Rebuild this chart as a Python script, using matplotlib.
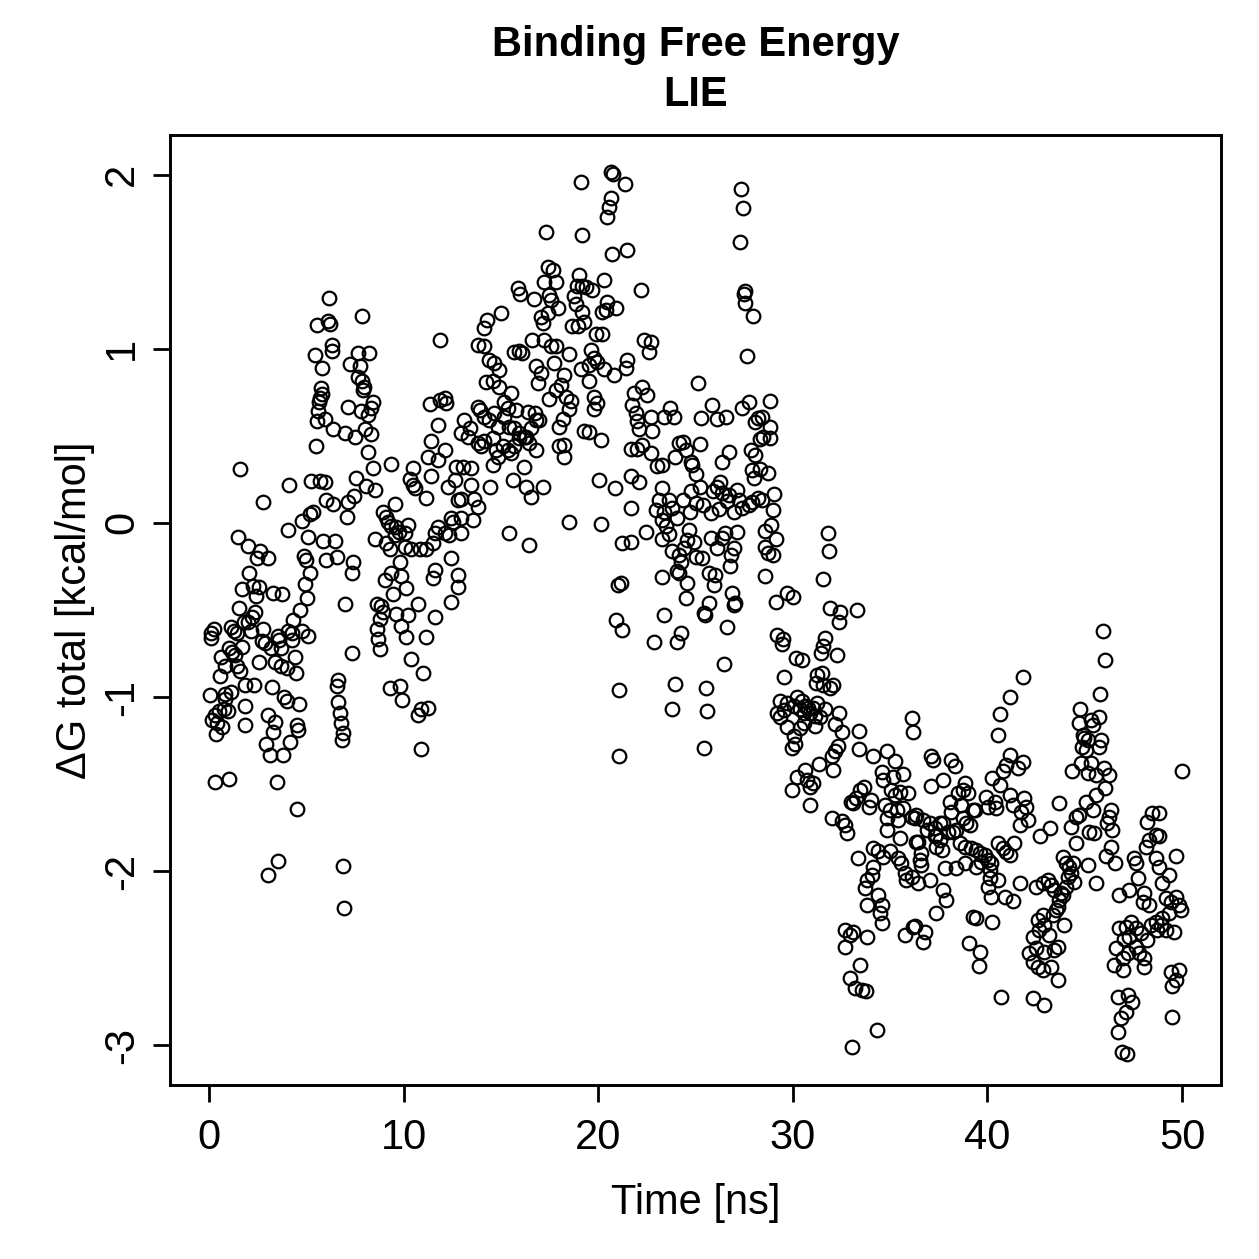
import numpy as np
import matplotlib
matplotlib.use("Agg")
import matplotlib.pyplot as plt

plt.rcParams['font.family'] = ['Liberation Sans', 'DejaVu Sans']

# (time [ns], dG [kcal/mol]) pairs, by time window
seg_0_6 = [(1.60,0.31),(4.11,0.22),(5.23,0.24),(5.69,0.24),(5.48,0.44),(2.77,0.12),(4.76,0.01),(5.19,0.05),(5.36,0.06),(4.08,-0.04),(5.10,-0.08),(1.49,-0.08),(2.03,-0.13),(2.63,-0.16),(2.46,-0.20),(3.02,-0.20),(4.90,-0.19),(4.98,-0.21),(2.08,-0.29),(5.19,-0.29),(4.93,-0.35),(1.69,-0.38),(2.29,-0.36),(2.55,-0.37),(2.42,-0.42),(3.31,-0.40),(3.78,-0.41),(5.02,-0.43),(1.52,-0.49),(4.68,-0.50),(2.37,-0.51),(2.20,-0.54),(2.03,-0.57),(1.78,-0.57),(4.34,-0.56),(0.24,-0.61),(0.12,-0.63),(0.12,-0.66),(1.14,-0.60),(1.27,-0.62),(1.43,-0.63),(2.14,-0.62),(2.80,-0.61),(3.57,-0.65),(4.08,-0.62),(4.25,-0.63),(4.76,-0.62),(5.11,-0.65),(2.72,-0.68),(2.88,-0.69),(3.19,-0.72),(3.60,-0.67),(3.70,-0.72),(4.25,-0.67),(1.01,-0.72),(1.18,-0.74),(1.35,-0.76),(1.69,-0.71),(0.63,-0.77),(2.55,-0.80),(3.40,-0.80),(3.70,-0.82),(3.99,-0.83),(4.42,-0.77),(4.46,-0.86),(0.84,-0.82),(1.43,-0.82),(1.60,-0.85),(0.58,-0.88),(1.86,-0.93),(2.34,-0.93),(3.23,-0.94),(0.07,-0.99),(0.84,-0.98),(1.14,-0.97),(0.84,-1.01),(1.86,-1.05),(3.87,-1.00),(3.99,-1.02),(4.63,-1.04),(0.32,-1.10),(0.50,-1.08),(0.75,-1.07),(0.97,-1.08),(0.15,-1.13),(0.41,-1.15),(0.67,-1.17),(0.36,-1.21),(1.83,-1.16),(3.06,-1.10),(3.40,-1.14),(3.31,-1.20),(4.51,-1.16),(4.60,-1.19),(4.17,-1.26),(2.92,-1.27),(3.14,-1.33),(3.83,-1.33),(0.29,-1.49),(1.04,-1.47),(3.48,-1.49),(4.51,-1.64),(3.53,-1.94),(3.06,-2.02)]

seg_5_12 = [(6.17,1.29),(7.87,1.19),(5.53,1.137),(6.13,1.161),(6.22,1.142),(6.34,1.02),(6.30,0.985),(5.45,0.962),(11.85,1.048),(7.67,0.973),(8.21,0.978),(7.24,0.915),(7.75,0.903),(5.79,0.891),(7.67,0.837),(7.84,0.814),(7.98,0.781),(7.93,0.762),(5.75,0.774),(5.79,0.739),(5.70,0.716),(5.65,0.692),(5.62,0.645),(5.53,0.587),(8.44,0.692),(8.35,0.657),(8.18,0.622),(7.80,0.645),(7.16,0.664),(11.34,0.68),(11.85,0.704),(5.96,0.598),(6.39,0.54),(6.98,0.516),(7.50,0.493),(8.01,0.54),(8.35,0.509),(11.77,0.563),(11.42,0.47),(8.15,0.406),(8.44,0.317),(9.38,0.336),(11.25,0.376),(11.77,0.364),(10.49,0.318),(10.31,0.252),(10.49,0.219),(10.57,0.20),(5.96,0.235),(11.42,0.27),(7.58,0.259),(8.09,0.212),(8.52,0.188),(11.17,0.142),(6.04,0.13),(6.39,0.111),(7.16,0.118),(7.46,0.153),(7.07,0.036),(9.55,0.111),(8.95,0.064),(9.12,0.036),(9.21,0.008),(9.38,-0.015),(9.63,-0.022),(9.75,-0.053),(9.55,-0.069),(10.23,-0.011),(10.06,-0.058),(11.77,-0.022),(11.59,-0.058),(5.88,-0.104),(6.47,-0.104),(6.04,-0.21),(6.56,-0.193),(8.52,-0.093),(9.12,-0.116),(9.29,-0.151),(10.06,-0.14),(10.40,-0.151),(10.82,-0.147),(11.17,-0.151),(11.51,-0.116),(7.41,-0.222),(7.33,-0.287),(9.80,-0.222),(9.38,-0.287),(9.04,-0.327),(9.89,-0.304),(11.59,-0.269),(11.51,-0.315),(9.46,-0.409),(10.14,-0.374),(6.98,-0.468),(8.61,-0.468),(8.86,-0.479),(8.95,-0.514),(8.78,-0.55),(8.61,-0.608),(8.69,-0.667),(8.78,-0.725),(9.63,-0.521),(10.23,-0.526),(9.89,-0.592),(10.14,-0.655),(10.72,-0.468),(11.59,-0.538),(11.17,-0.655),(7.36,-0.749),(10.40,-0.779),(10.98,-0.859),(6.64,-0.901),(6.56,-0.936),(6.64,-1.03),(6.73,-1.089),(6.78,-1.147),(6.90,-1.206),(6.85,-1.248),(9.29,-0.948),(9.80,-0.936),(9.92,-1.014),(10.72,-1.10),(10.89,-1.07),(11.25,-1.061),(10.88,-1.30),(6.90,-1.972),(6.94,-2.209)]

seg_12_18 = [(17.32,1.67),(17.42,1.47),(17.67,1.45),(17.23,1.385),(17.83,1.385),(15.90,1.347),(16.0,1.315),(16.72,1.284),(17.48,1.308),(17.57,1.279),(17.91,1.233),(15.01,1.207),(14.29,1.165),(14.12,1.117),(17.06,1.184),(17.40,1.203),(17.14,1.146),(13.85,1.022),(14.12,1.016),(16.58,1.05),(17.23,1.05),(17.57,1.016),(17.83,1.016),(15.69,0.984),(15.95,0.989),(16.07,0.974),(14.41,0.936),(14.67,0.916),(14.92,0.878),(16.80,0.901),(17.06,0.859),(17.74,0.916),(14.24,0.81),(14.58,0.816),(14.92,0.782),(16.89,0.801),(17.83,0.763),(17.48,0.71),(15.52,0.744),(12.11,0.716),(12.19,0.687),(15.18,0.696),(15.35,0.658),(13.82,0.667),(13.95,0.648),(14.67,0.633),(15.15,0.61),(15.78,0.648),(16.38,0.639),(16.75,0.633),(16.97,0.591),(13.13,0.591),(13.39,0.543),(12.97,0.514),(14.15,0.61),(14.41,0.591),(14.84,0.553),(15.44,0.553),(15.69,0.543),(15.95,0.514),(16.29,0.495),(16.55,0.543),(16.80,0.591),(18.0,0.553),(12.11,0.42),(13.30,0.496),(13.82,0.458),(13.99,0.439),(14.15,0.468),(14.58,0.487),(14.75,0.419),(14.84,0.381),(15.09,0.439),(15.35,0.419),(15.52,0.40),(15.69,0.439),(15.95,0.487),(16.20,0.496),(16.46,0.458),(16.80,0.419),(18.0,0.439),(12.71,0.32),(13.05,0.32),(13.47,0.313),(14.58,0.33),(15.61,0.246),(16.20,0.32),(12.28,0.208),(12.62,0.246),(13.47,0.218),(14.46,0.208),(16.29,0.208),(16.55,0.151),(17.14,0.208),(12.79,0.131),(12.96,0.135),(13.64,0.135),(13.82,0.094),(12.45,0.027),(12.53,0.008),(12.96,0.027),(13.56,0.018),(12.11,-0.059),(12.36,-0.069),(12.96,-0.059),(15.44,-0.059),(16.46,-0.127),(12.45,-0.20),(12.79,-0.30),(12.79,-0.367),(12.45,-0.452)]

seg_18_24 = [(20.68,2.016),(20.78,2.005),(19.11,1.959),(21.36,1.943),(20.65,1.868),(20.56,1.812),(20.47,1.755),(19.19,1.653),(20.73,1.544),(21.47,1.566),(19.02,1.426),(18.90,1.358),(19.19,1.362),(19.36,1.353),(19.70,1.335),(20.29,1.392),(22.21,1.335),(18.77,1.301),(18.85,1.255),(19.19,1.21),(20.20,1.21),(20.38,1.221),(20.90,1.233),(20.47,1.267),(18.68,1.131),(18.94,1.131),(19.28,1.153),(19.87,1.085),(20.20,1.085),(22.35,1.051),(22.69,1.04),(22.60,0.983),(18.51,0.972),(18.25,0.847),(18.08,0.79),(18.34,0.722),(18.60,0.699),(18.51,0.654),(19.62,0.994),(19.79,0.949),(19.53,0.904),(19.96,0.926),(19.11,0.881),(20.29,0.881),(20.80,0.847),(21.50,0.938),(21.41,0.892),(19.53,0.813),(19.79,0.722),(19.96,0.688),(19.79,0.654),(18.17,0.597),(18.25,0.45),(18.25,0.377),(19.28,0.529),(19.53,0.522),(20.12,0.477),(22.26,0.779),(21.84,0.745),(22.52,0.733),(21.75,0.677),(21.92,0.631),(22.0,0.586),(22.09,0.54),(22.69,0.608),(22.77,0.529),(23.71,0.658),(23.91,0.608),(23.37,0.608),(22.26,0.45),(21.67,0.427),(22.01,0.427),(22.69,0.404),(23.03,0.325),(23.28,0.331),(24.13,0.461),(23.96,0.381),(20.03,0.245),(20.86,0.2),(21.67,0.268),(22.09,0.234),(23.29,0.2),(23.12,0.132),(23.63,0.132),(23.37,0.064),(22.95,0.075),(23.80,0.086),(24.05,0.03),(23.29,0.018),(23.46,-0.016),(23.63,-0.061),(21.67,0.086),(18.51,0.007),(20.12,-0.004),(22.44,-0.05),(21.67,-0.107),(21.24,-0.118),(23.29,-0.095),(23.80,-0.163),(24.05,-0.277),(23.29,-0.311),(21.0,-0.356),(21.16,-0.345),(23.37,-0.526),(20.90,-0.56),(21.24,-0.617),(22.86,-0.685),(24.05,-0.685),(21.07,-0.958),(23.96,-0.924),(23.80,-1.071),(21.07,-1.34)]

seg_24_30 = [(27.36,1.915),(27.43,1.806),(27.31,1.615),(27.56,1.334),(27.51,1.314),(27.56,1.264),(27.95,1.188),(27.65,0.958),(25.12,0.806),(25.85,0.677),(25.29,0.603),(26.11,0.597),(26.59,0.608),(27.39,0.658),(27.73,0.696),(28.81,0.702),(28.06,0.582),(28.23,0.601),(28.40,0.607),(28.81,0.553),(28.29,0.48),(28.49,0.495),(28.83,0.489),(24.37,0.466),(24.49,0.417),(25.21,0.453),(26.71,0.409),(26.37,0.352),(27.85,0.419),(28.06,0.39),(24.79,0.352),(24.84,0.333),(25.05,0.282),(27.90,0.304),(28.33,0.308),(28.71,0.289),(27.99,0.256),(26.28,0.237),(26.11,0.208),(25.90,0.185),(24.79,0.185),(25.21,0.208),(29.04,0.166),(27.13,0.189),(26.71,0.16),(27.22,0.132),(26.96,0.065),(24.37,0.132),(25.0,0.113),(25.39,0.103),(24.74,0.065),(26.37,0.17),(26.62,0.128),(26.20,0.078),(25.78,0.055),(27.39,0.084),(27.73,0.103),(27.90,0.122),(28.23,0.141),(28.40,0.132),(29.0,0.074),(28.90,-0.013),(28.57,-0.046),(24.66,-0.039),(24.54,-0.097),(24.91,-0.112),(24.40,-0.144),(27.13,-0.054),(26.54,-0.058),(26.37,-0.087),(26.11,-0.144),(25.78,-0.087),(26.96,-0.144),(26.83,-0.183),(26.79,-0.25),(29.15,-0.093),(28.57,-0.136),(28.74,-0.174),(29.0,-0.184),(24.15,-0.183),(24.23,-0.222),(24.15,-0.285),(25.0,-0.193),(25.34,-0.203),(25.68,-0.289),(26.02,-0.299),(25.94,-0.356),(24.57,-0.346),(28.57,-0.304),(29.69,-0.40),(29.99,-0.424),(29.15,-0.452),(24.49,-0.433),(26.88,-0.40),(27.05,-0.458),(26.96,-0.472),(25.68,-0.458),(25.43,-0.515),(25.51,-0.528),(24.23,-0.63),(26.62,-0.599),(29.18,-0.644),(29.49,-0.664),(29.44,-0.693),(26.45,-0.81),(29.56,-0.882),(25.56,-0.949),(30.15,-0.776),(25.60,-1.077),(25.43,-1.294),(29.35,-1.025),(29.18,-1.093),(29.35,-1.112),(29.53,-1.074),(29.69,-1.035),(29.69,-1.169)]

seg_30_36 = [(31.83,-0.056),(31.88,-0.159),(31.54,-0.323),(31.92,-0.49),(32.43,-0.509),(33.32,-0.50),(32.39,-0.566),(31.66,-0.662),(31.54,-0.706),(31.44,-0.744),(32.26,-0.758),(30.47,-0.786),(31.23,-0.873),(31.49,-0.863),(31.20,-0.92),(31.57,-0.93),(32.09,-0.93),(31.92,-0.949),(30.21,-1.0),(30.46,-1.022),(30.63,-1.05),(30.80,-1.06),(31.05,-1.06),(31.23,-1.031),(30.04,-1.05),(30.38,-1.07),(30.55,-1.089),(30.89,-1.089),(31.14,-1.108),(31.40,-1.117),(31.66,-1.066),(32.39,-1.089),(32.17,-1.155),(32.51,-1.203),(30.55,-1.146),(30.38,-1.175),(31.14,-1.165),(33.40,-1.194),(33.42,-1.295),(30.04,-1.223),(30.12,-1.27),(29.95,-1.29),(32.17,-1.309),(32.34,-1.28),(32.0,-1.337),(34.13,-1.337),(34.82,-1.309),(35.24,-1.366),(31.32,-1.385),(34.56,-1.429),(34.65,-1.475),(35.16,-1.456),(35.67,-1.443),(30.21,-1.457),(30.63,-1.419),(30.72,-1.476),(31.06,-1.495),(30.89,-1.514),(29.95,-1.533),(32.05,-1.418),(33.68,-1.514),(33.44,-1.533),(33.27,-1.581),(33.0,-1.60),(33.09,-1.61),(35.07,-1.533),(35.24,-1.562),(35.49,-1.543),(35.92,-1.553),(34.0,-1.591),(33.90,-1.629),(34.73,-1.62),(34.99,-1.648),(35.33,-1.648),(35.67,-1.638),(36.10,-1.686),(36.27,-1.696),(30.86,-1.62),(32.0,-1.695),(32.52,-1.714),(32.68,-1.733),(32.77,-1.781),(34.82,-1.696),(35.41,-1.706),(34.82,-1.762),(35.49,-1.81),(36.35,-1.829),(33.36,-1.925),(34.13,-1.867),(34.39,-1.886),(34.65,-1.915),(34.99,-1.886),(35.41,-1.925),(35.58,-1.953),(35.75,-2.011),(35.84,-2.049),(36.10,-2.03),(36.44,-2.068),(34.13,-1.973),(34.05,-2.02),(33.79,-2.049),(33.70,-2.097),(34.39,-2.135),(34.56,-2.193),(34.48,-2.24),(34.56,-2.298),(33.79,-2.193),(32.68,-2.336),(32.94,-2.365),(33.11,-2.346),(33.79,-2.375),(32.68,-2.432),(33.45,-2.537),(32.94,-2.614),(33.20,-2.671),(33.54,-2.681),(33.76,-2.69),(35.75,-2.365),(36.18,-2.317),(34.31,-2.91),(33.04,-3.01)]

seg_36_42 = [(41.85,-0.882),(41.14,-1.001),(40.66,-1.096),(40.54,-1.217),(36.10,-1.121),(36.18,-1.198),(41.14,-1.332),(41.82,-1.37),(40.97,-1.389),(40.79,-1.427),(41.56,-1.408),(40.25,-1.466),(40.63,-1.504),(37.12,-1.337),(37.21,-1.36),(38.15,-1.36),(38.32,-1.398),(37.12,-1.51),(37.72,-1.475),(38.83,-1.494),(38.75,-1.533),(39.0,-1.552),(38.49,-1.552),(38.07,-1.60),(38.15,-1.657),(38.66,-1.619),(39.26,-1.648),(39.94,-1.571),(40.37,-1.60),(40.46,-1.638),(40.03,-1.629),(41.14,-1.562),(41.31,-1.619),(41.90,-1.58),(41.99,-1.628),(41.73,-1.657),(42.07,-1.705),(41.65,-1.733),(36.35,-1.676),(36.70,-1.705),(36.87,-1.762),(37.04,-1.724),(37.29,-1.753),(37.38,-1.791),(37.55,-1.724),(37.72,-1.724),(37.98,-1.772),(38.24,-1.772),(38.41,-1.762),(38.75,-1.695),(38.92,-1.724),(39.09,-1.734),(39.34,-1.648),(36.44,-1.829),(36.61,-1.896),(36.53,-1.934),(36.61,-1.963),(37.29,-1.80),(37.55,-1.82),(37.38,-1.858),(37.64,-1.877),(38.58,-1.839),(38.83,-1.858),(39.17,-1.868),(39.43,-1.877),(39.60,-1.896),(39.85,-1.906),(40.03,-1.935),(39.68,-1.944),(40.20,-1.954),(39.43,-1.973),(40.11,-1.992),(38.83,-1.954),(38.41,-1.982),(37.81,-1.982),(40.54,-1.839),(40.80,-1.868),(40.97,-1.887),(41.14,-1.906),(41.39,-1.839),(37.04,-2.049),(40.11,-2.04),(40.54,-2.049),(40.03,-2.088),(41.65,-2.065),(37.72,-2.107),(37.89,-2.164),(40.20,-2.145),(40.88,-2.145),(41.31,-2.168),(37.38,-2.24),(39.26,-2.26),(39.43,-2.27),(40.25,-2.289),(36.27,-2.313),(36.78,-2.351),(36.70,-2.403),(39.06,-2.409),(39.60,-2.466),(39.57,-2.546),(40.71,-2.719)]

seg_42_50 = [(45.92,-0.618),(46.05,-0.786),(45.78,-0.984),(44.76,-1.07),(44.69,-1.146),(45.32,-1.131),(45.40,-1.16),(45.71,-1.112),(44.89,-1.217),(44.98,-1.236),(45.15,-1.246),(44.86,-1.284),(45.06,-1.303),(45.83,-1.246),(45.75,-1.284),(44.35,-1.427),(44.81,-1.38),(45.32,-1.38),(45.15,-1.437),(45.58,-1.447),(46.0,-1.408),(46.26,-1.447),(46.05,-1.523),(45.58,-1.561),(45.40,-1.647),(45.06,-1.60),(49.98,-1.427),(43.70,-1.609),(43.22,-1.753),(42.71,-1.80),(44.55,-1.686),(44.72,-1.676),(44.29,-1.743),(45.23,-1.772),(45.49,-1.782),(44.55,-1.835),(46.34,-1.647),(46.26,-1.686),(46.12,-1.72),(46.40,-1.762),(46.34,-1.858),(46.09,-1.911),(46.57,-1.954),(48.22,-1.715),(48.48,-1.667),(48.82,-1.667),(48.65,-1.791),(48.31,-1.82),(48.14,-1.858),(48.82,-1.797),(49.67,-1.911),(47.54,-1.922),(47.62,-1.954),(47.71,-2.04),(48.65,-1.925),(48.82,-1.973),(49.33,-2.02),(48.99,-2.069),(43.87,-1.915),(44.04,-1.954),(44.21,-1.973),(44.38,-1.954),(44.29,-2.011),(44.12,-2.03),(44.47,-2.059),(44.04,-2.088),(43.78,-2.126),(43.70,-2.164),(43.87,-2.135),(45.15,-1.963),(45.58,-2.069),(46.74,-2.135),(47.28,-2.107),(48.05,-2.126),(47.97,-2.174),(48.31,-2.193),(49.16,-2.155),(49.42,-2.174),(49.67,-2.145),(49.84,-2.193),(49.93,-2.222),(49.33,-2.241),(48.99,-2.27),(48.65,-2.289),(48.39,-2.308),(48.73,-2.336),(49.16,-2.336),(49.59,-2.346),(48.90,-2.308),(42.50,-2.088),(42.84,-2.069),(43.10,-2.049),(43.27,-2.078),(43.44,-2.107),(43.61,-2.203),(43.53,-2.222),(43.36,-2.25),(42.84,-2.25),(42.59,-2.279),(42.67,-2.336),(42.93,-2.308),(43.95,-2.308),(42.33,-2.375),(43.18,-2.365),(46.77,-2.327),(47.11,-2.317),(47.37,-2.289),(47.62,-2.327),(47.88,-2.356),(48.22,-2.394),(47.28,-2.375),(47.03,-2.39),(47.62,-2.432),(46.60,-2.442),(46.51,-2.537),(46.94,-2.499),(47.20,-2.47),(46.94,-2.566),(48.05,-2.499),(48.05,-2.547),(47.80,-2.47),(42.16,-2.47),(42.50,-2.442),(42.33,-2.518),(42.93,-2.461),(43.44,-2.451),(43.61,-2.432),(42.59,-2.547),(42.84,-2.566),(43.27,-2.547),(43.61,-2.623),(42.93,-2.767),(42.33,-2.728),(49.42,-2.576),(49.84,-2.566),(49.67,-2.623),(49.50,-2.661),(46.69,-2.719),(47.20,-2.709),(47.45,-2.748),(47.11,-2.805),(46.86,-2.843),(46.69,-2.92),(49.50,-2.838),(46.91,-3.04),(47.15,-3.048)]

x_ticks = [0, 10, 20, 30, 40, 50]
y_ticks = [-3, -2, -1, 0, 1, 2]
y_tick_labels = ['-3', '-2', '-1', '0', '1', '2']

segments = [seg_0_6, seg_5_12, seg_12_18, seg_18_24, seg_24_30, seg_30_36, seg_36_42, seg_42_50]
data = np.array([p for s in segments for p in s])
time_ns = data[:, 0]
dg_total = data[:, 1]

W = H = 1259
DPI = 200
fig = plt.figure(figsize=(W / DPI, H / DPI), dpi=DPI)
ax = fig.add_axes([170 / W, 1 - 1085 / H, (1221 - 170) / W, (1085 - 135) / H])

ax.plot(time_ns, dg_total, linestyle='none', marker='o', markersize=4.9,
        markerfacecolor='none', markeredgecolor='black', markeredgewidth=0.8)

ax.set_xlim(-2, 52)
ax.set_ylim(-3.2268, 2.2271)
ax.set_xticks(x_ticks)
ax.set_yticks(y_ticks)
ax.set_yticklabels(y_tick_labels)
fs = 15
ax.tick_params(axis='both', direction='out', length=6, width=1.0, labelsize=fs)
ax.tick_params(axis='x', pad=6)
ax.tick_params(axis='y', pad=4)
for lab in ax.get_yticklabels():
    lab.set_rotation(90)
    lab.set_va('center')
for sp in ax.spines.values():
    sp.set_linewidth(1.05)

ax.set_xlabel('Time [ns]', fontsize=fs, va='center')
ax.xaxis.set_label_coords(0.5, -(1203 - 1085) / 950)
ax.set_ylabel('ΔG total [kcal/mol]', fontsize=fs, va='center')
ax.yaxis.set_label_coords(-(170 - 75) / 1051, 0.5)

cx = (170 + 1221) / 2 / W
fig.text(cx, 1 - 45 / H, 'Binding Free Energy', ha='center', va='center',
         fontsize=fs, fontweight='bold')
fig.text(cx, 1 - 95 / H, 'LIE', ha='center', va='center',
         fontsize=fs, fontweight='bold')

fig.savefig('out.png', dpi=DPI)
